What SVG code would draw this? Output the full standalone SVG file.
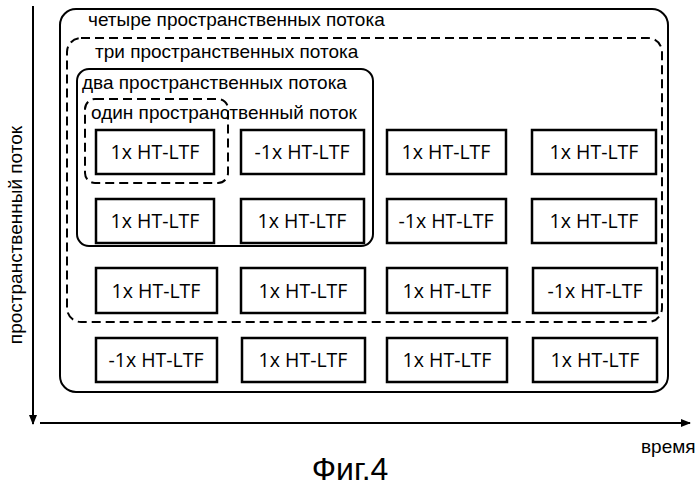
<svg xmlns="http://www.w3.org/2000/svg" width="699" height="489" viewBox="0 0 699 489">
<style>
.b{fill:#fff;stroke:#000;stroke-width:2.5}
.t{font-family:"Open Sans",sans-serif;font-size:19.5px;text-anchor:middle}
.l{font-family:"Liberation Sans",Arial,sans-serif;font-size:19px}
.g{fill:none;stroke:#000;stroke-width:2}
.d{stroke-dasharray:9 5}
</style>
<defs><marker id="a" markerWidth="10" markerHeight="8" refX="9" refY="4" orient="auto" markerUnits="userSpaceOnUse"><path d="M0,0 L10,4 L0,8z"/></marker></defs>
<rect width="699" height="489" fill="#fff"/>
<g id="groups">
<rect id="four" class="g" x="60" y="9" width="608" height="383" rx="16"/>
<rect id="three" class="g d" x="67" y="38" width="595" height="284" rx="14"/>
<rect id="two" class="g" x="77" y="69" width="296" height="177" rx="12"/>
<rect id="one" class="g d" x="85" y="99" width="143" height="84" rx="10"/>
<text class="l" x="88" y="26">четыре пространственных потока</text>
<text class="l" x="95" y="58" font-size="20.5">три пространственных потока</text>
<text class="l" x="82" y="89" font-size="20.5">два пространственных потока</text>
<text class="l" x="91" y="119" font-size="18">один пространственный поток</text>
</g>
<g id="cells">
<g id="r1c1"><rect class="b" x="96" y="130" width="118" height="44"/><text class="t" x="155" y="159">1x HT-LTF</text></g>
<g id="r1c2"><rect class="b" x="241" y="130" width="123" height="44"/><text class="t" x="302" y="159">-1x HT-LTF</text></g>
<g id="r1c3"><rect class="b" x="387" y="130" width="119" height="44"/><text class="t" x="446" y="159">1x HT-LTF</text></g>
<g id="r1c4"><rect class="b" x="532" y="130" width="124" height="44"/><text class="t" x="594" y="159">1x HT-LTF</text></g>
<g id="r2c1"><rect class="b" x="96" y="199" width="118" height="44"/><text class="t" x="155" y="228">1x HT-LTF</text></g>
<g id="r2c2"><rect class="b" x="241" y="199" width="123" height="44"/><text class="t" x="302" y="228">1x HT-LTF</text></g>
<g id="r2c3"><rect class="b" x="387" y="199" width="119" height="44"/><text class="t" x="446" y="228">-1x HT-LTF</text></g>
<g id="r2c4"><rect class="b" x="532" y="199" width="124" height="44"/><text class="t" x="594" y="228">1x HT-LTF</text></g>
<g id="r3c1"><rect class="b" x="96" y="268" width="121" height="45"/><text class="t" x="156" y="298">1x HT-LTF</text></g>
<g id="r3c2"><rect class="b" x="241" y="268" width="124" height="45"/><text class="t" x="303" y="298">1x HT-LTF</text></g>
<g id="r3c3"><rect class="b" x="387" y="268" width="120" height="45"/><text class="t" x="447" y="298">1x HT-LTF</text></g>
<g id="r3c4"><rect class="b" x="533" y="268" width="124" height="45"/><text class="t" x="595" y="298">-1x HT-LTF</text></g>
<g id="r4c1"><rect class="b" x="96" y="338" width="121" height="44"/><text class="t" x="156" y="367">-1x HT-LTF</text></g>
<g id="r4c2"><rect class="b" x="242" y="338" width="123" height="44"/><text class="t" x="303" y="367">1x HT-LTF</text></g>
<g id="r4c3"><rect class="b" x="387" y="338" width="120" height="44"/><text class="t" x="447" y="367">1x HT-LTF</text></g>
<g id="r4c4"><rect class="b" x="533" y="338" width="124" height="44"/><text class="t" x="595" y="367">1x HT-LTF</text></g>
</g>
<g id="axes" stroke="#000" stroke-width="2">
<line x1="33" y1="6" x2="33" y2="424" marker-end="url(#a)"/>
<line x1="40" y1="423" x2="690" y2="423" marker-end="url(#a)"/>
</g>
<text class="l" transform="translate(22,235) rotate(-90)" text-anchor="middle" font-size="21">пространственный поток</text>
<text class="l" x="641" y="453" font-size="17">время</text>
<text x="350" y="480" font-family="Liberation Sans,Arial,sans-serif" font-size="32" text-anchor="middle">Фиг.4</text>
</svg>
